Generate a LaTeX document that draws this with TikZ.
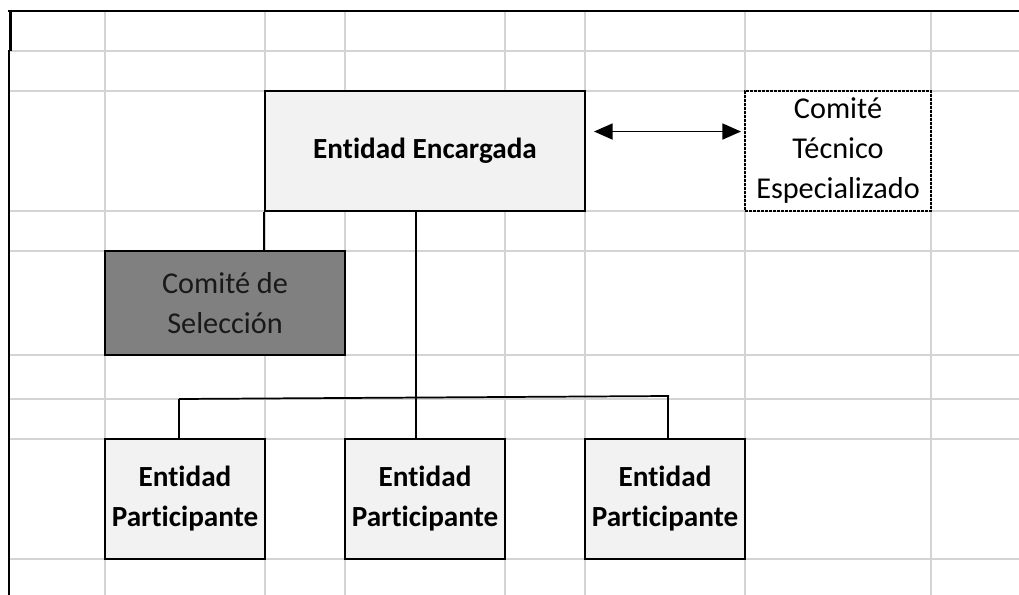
\documentclass[tikz,border=0pt]{standalone}
\usepackage{fontspec}
\setmainfont[Ligatures=NoCommon]{Carlito}
\usepackage{tikz}
\usetikzlibrary{arrows.meta}
\definecolor{gridgray}{HTML}{D4D4D4}
\definecolor{boxlight}{HTML}{F2F2F2}
\definecolor{boxdark}{HTML}{808080}
\tikzset{
  cell/.style={draw, line width=1.5pt, rectangle, align=center, inner sep=0pt,
    font=\fontsize{22.7pt}{30pt}\selectfont},
  entbox/.style={cell, fill=boxlight, font=\fontsize{21.9pt}{30pt}\selectfont\bfseries},
  selbox/.style={cell, fill=boxdark, text=black!90},
  tecbox/.style={cell, fill=white, line width=1pt, dash pattern=on 2pt off 1pt},
  link/.style={line width=1.3pt}
}
\begin{document}
\begin{tikzpicture}[x=0.75pt, y=-0.75pt]
\useasboundingbox (0,0) rectangle (1019,595);
% sheet grid
\foreach \gy in {51,91,211,251,355,399,439,559}
  \draw[gridgray, line width=1.1pt] (10,\gy) -- (1019,\gy);
\foreach \gx in {105,265,345,505,585,745,931}
  \draw[gridgray, line width=1.1pt] (\gx,12) -- (\gx,595);
\draw[line width=2pt] (8,11) -- (1019,11);
\draw[line width=2pt] (10.5,11) -- (10.5,51);
\draw[line width=2pt] (9,50) -- (9,595);
% boxes
\node[entbox, minimum width=240pt, minimum height=90pt] (enc) at (425,151) {Entidad Encargada};
\node[tecbox, minimum width=139.5pt, minimum height=90pt] (tec) at (838,151) {Comité\\Técnico\\Especializado};
\node[selbox, minimum width=180pt, minimum height=78pt] (sel) at (225,303) {Comité de\\Selección};
\node[entbox, minimum width=120pt, minimum height=90pt] (p1) at (185,499) {Entidad\\Participante};
\node[entbox, minimum width=120pt, minimum height=90pt] (p2) at (425,499) {Entidad\\Participante};
\node[entbox, minimum width=120pt, minimum height=90pt] (p3) at (665,499) {Entidad\\Participante};
% connectors
\coordinate (busL) at (179,399);
\coordinate (busR) at (669,396);
\draw[link] (enc.south west) -- (enc.south west |- sel.north);
\draw[link] ([xshift=-6.75pt]enc.south) -- ([xshift=-6.75pt]p2.north);
\draw[link] (busL) -- (busR);
\draw[link] (busL) -- (busL |- p1.north);
\draw[link] ([xshift=-0.75pt]busR) -- ([xshift=-0.75pt]busR |- p3.north);
\draw[link, {Triangle[length=14pt,width=12pt]}-{Triangle[length=14pt,width=12pt]}]
  ([shift={(6pt,14.6pt)}]enc.east) -- ([shift={(-2.5pt,14.6pt)}]tec.west);
\end{tikzpicture}
\end{document}
